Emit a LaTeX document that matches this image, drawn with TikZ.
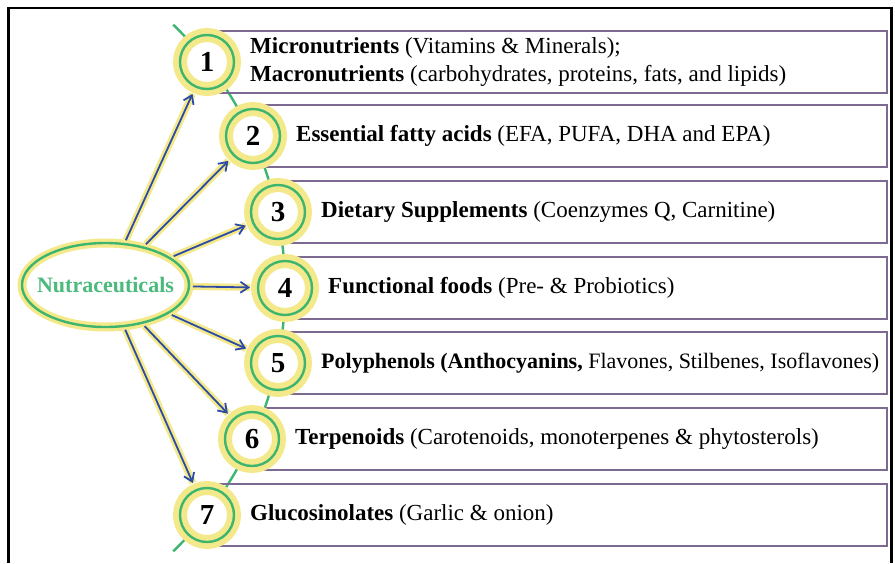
\documentclass[tikz,border=0pt]{standalone}
\usepackage{fontspec}
\setmainfont{Liberation Serif}
\usetikzlibrary{positioning,shapes.geometric,arrows.meta}
\definecolor{glowyellow}{HTML}{F4E98A}
\definecolor{ringgreen}{HTML}{3DB56E}
\definecolor{hubgreen}{HTML}{4BBA7C}
\definecolor{arrowblue}{HTML}{2B4BA6}
\definecolor{boxpurple}{HTML}{7D6A92}
\tikzset{
  numc/.style={circle,draw=ringgreen,line width=2.4pt,minimum size=54pt,inner sep=0pt,outer sep=8pt,
    preaction={fill=white,draw=glowyellow,line width=14pt},font=\fontsize{29}{29}\selectfont\bfseries},
  hub/.style={ellipse,draw=ringgreen,line width=2.4pt,minimum width=167pt,minimum height=84pt,inner sep=0pt,outer sep=4pt,
    preaction={fill=white,draw=glowyellow,line width=9pt},
    label={[text=hubgreen,font=\fontsize{22}{22}\selectfont\bfseries]center:#1}},
  itembox/.style={draw=boxpurple,line width=1.6pt},
  itemtext/.style={right=4pt of #1,inner sep=4pt,align=left,font=\fontsize{23}{28}\selectfont},
  glowline/.style={draw=glowyellow,line width=7pt},
  arrline/.style={draw=arrowblue,line width=1.8pt,-{Straight Barb[length=8pt,width=11pt]}},
}
\begin{document}
\begin{tikzpicture}[x=1pt,y=-1pt]
  \useasboundingbox (0,0) rectangle (895,563);
  % outer frame
  \draw[line width=2.5pt] (8.5,563) -- (8.5,8) -- (891.5,8) -- (891.5,563);
  % green arc through the numbers
  \draw[ringgreen,line width=2.4pt] (-81,288) ++(-46:366) arc[start angle=-46,end angle=46,radius=366];
  % boxes and numbered circles
  \foreach \n/\x/\y in {1/207/62, 2/253/136, 3/278/212, 4/285/288, 5/278/363, 6/252/439, 7/207/515}{
    \draw[itembox] (\x,\y-31) rectangle (887,\y+31);
    \node[numc] (c\n) at (\x,\y) {\n};
  }
  \node[hub=Nutraceuticals] (hub) at (105.5,285) {};
  \foreach \n in {1,...,7}{
    \draw[glowline] (hub) -- (c\n);
    \draw[arrline] (hub) -- (c\n);
  }
  % texts
  \node[itemtext=c1] (t1) {\textbf{Micronutrients} (Vitamins \& Minerals);\\\textbf{Macronutrients} (carbohydrates, proteins, fats, and lipids)};
  \node[itemtext=c2] (t2) {\textbf{Essential fatty acids} (EFA, PUFA, DHA and EPA)};
  \node[itemtext=c3] (t3) {\textbf{Dietary Supplements} (Coenzymes Q, Carnitine)};
  \node[itemtext=c4] (t4) {\textbf{Functional foods} (Pre- \& Probiotics)};
  \node[itemtext=c5,font=\fontsize{22}{28}\selectfont] (t5) {\textbf{Polyphenols (Anthocyanins,} Flavones, Stilbenes, Isoflavones)};
  \node[itemtext=c6] (t6) {\textbf{Terpenoids} (Carotenoids, monoterpenes \& phytosterols)};
  \node[itemtext=c7] (t7) {\textbf{Glucosinolates} (Garlic \& onion)};
\end{tikzpicture}
\end{document}
